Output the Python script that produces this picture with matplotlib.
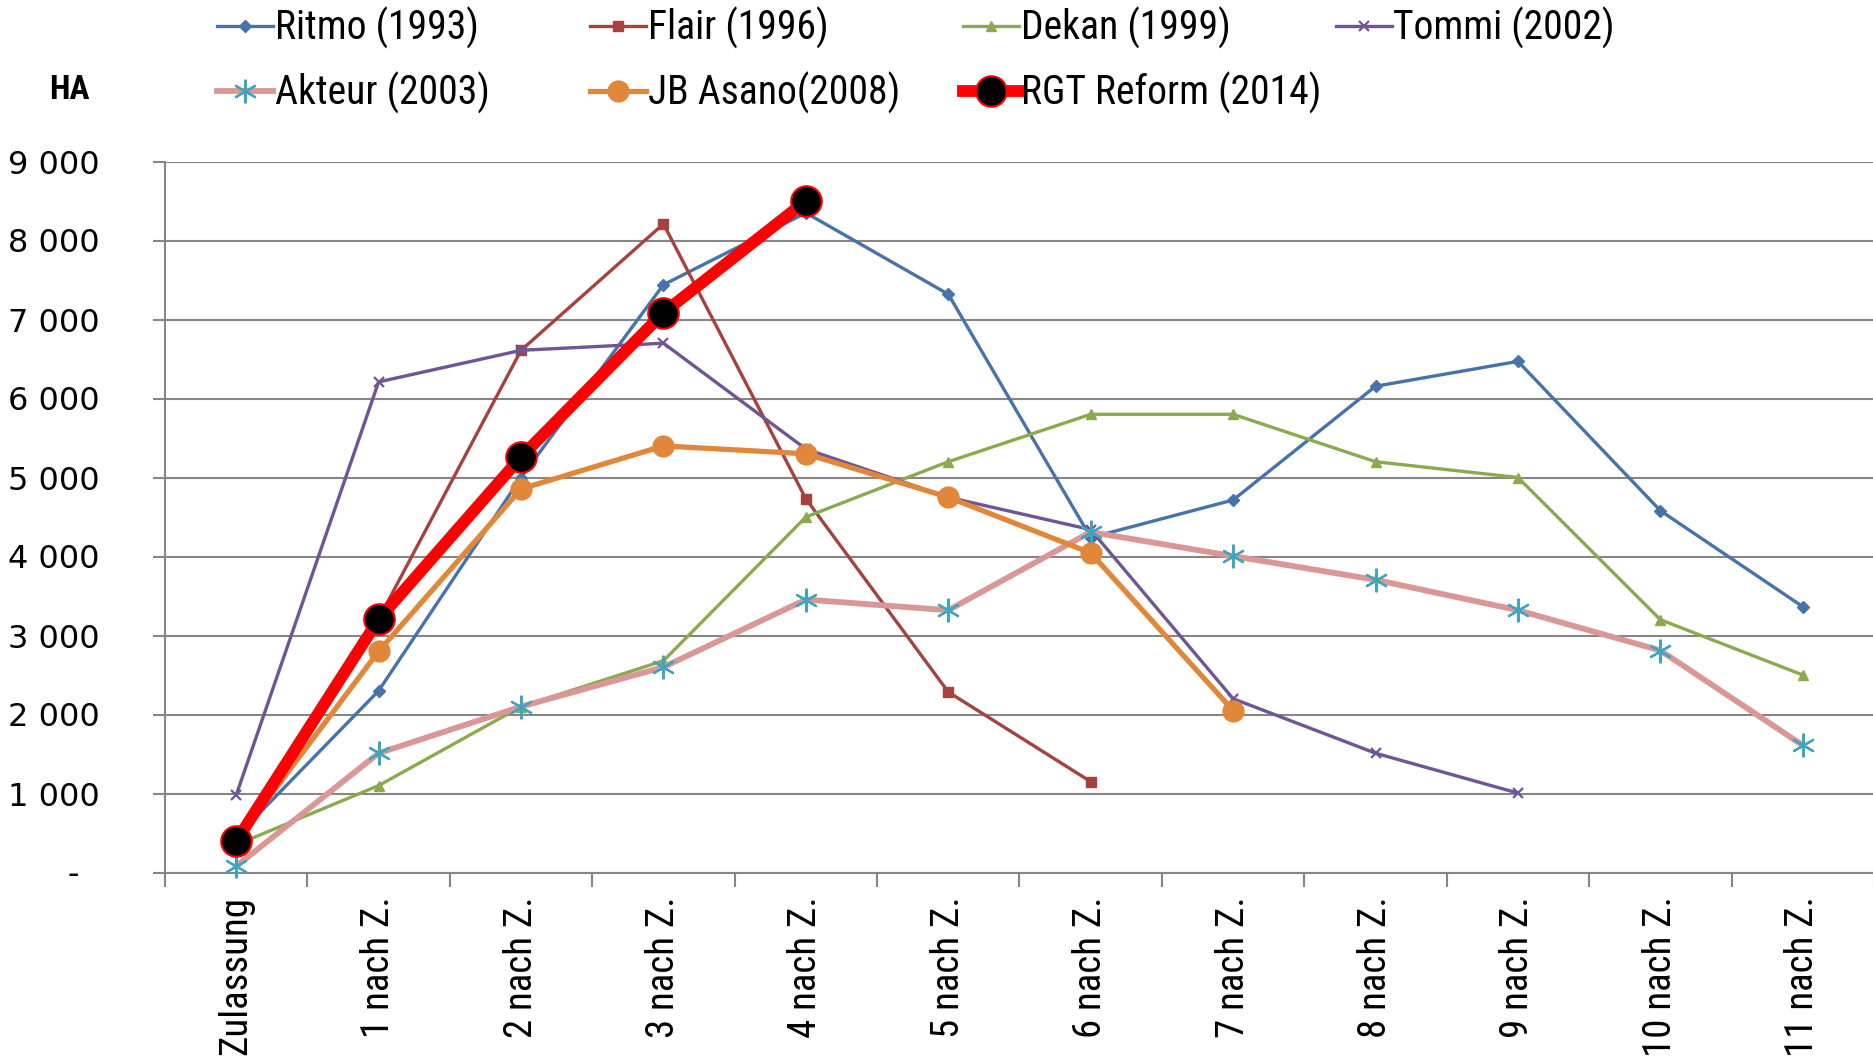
import matplotlib
matplotlib.use("Agg")
import matplotlib.pyplot as plt

categories = ["Zulassung", "1 nach Z.", "2 nach Z.", "3 nach Z.", "4 nach Z.", "5 nach Z.",
              "6 nach Z.", "7 nach Z.", "8 nach Z.", "9 nach Z.", "10 nach Z.", "11 nach Z."]

ritmo = [450, 2300, 5000, 7440, 8350, 7320, 4240, 4715, 6155, 6470, 4580, 3365]
flair = [400, 3210, 6610, 8210, 4730, 2285, 1150]
dekan = [350, 1100, 2100, 2680, 4500, 5200, 5800, 5800, 5200, 5000, 3200, 2500]
tommi = [980, 6210, 6610, 6700, 5360, 4750, 4340, 2200, 1510, 1005]
akteur = [80, 1510, 2100, 2600, 3455, 3320, 4310, 4005, 3705, 3320, 2810, 1610]
jb_asano = [400, 2800, 4855, 5400, 5300, 4750, 4045, 2050]
rgt_reform = [395, 3205, 5260, 7085, 8500]

series_labels = ["Ritmo (1993)", "Flair (1996)", "Dekan (1999)", "Tommi (2002)",
                 "Akteur (2003)", "JB Asano(2008)", "RGT Reform (2014)"]
ytick_values = [0, 1000, 2000, 3000, 4000, 5000, 6000, 7000, 8000, 9000]
ytick_labels = ["-  ", "1 000", "2 000", "3 000", "4 000", "5 000", "6 000", "7 000", "8 000", "9 000"]
y_title = "HA"

narrow = ["Roboto Condensed", "DejaVu Sans"]

W, H = 1874, 1062
fig = plt.figure(figsize=(W / 100, H / 100), dpi=100)
ax = fig.add_axes([165 / W, 1 - 872.5 / H, 1 - 165 / W, (872.5 - 161.5) / H])

grid_c = "#868686"
x = list(range(len(categories)))

def xs(v):
    return x[:len(v)]

h = []
h += ax.plot(xs(ritmo), ritmo, color="#4673AA", lw=2.4, marker="D", ms=6, mfc="#4673AA", mec="#4673AA", clip_on=False, zorder=3)
h += ax.plot(xs(flair), flair, color="#A5423E", lw=2.4, marker="s", ms=7, mfc="#A5423E", mec="#A5423E", clip_on=False, zorder=3)
h += ax.plot(xs(dekan), dekan, color="#8BAA4E", lw=2.4, marker="^", ms=7, mfc="#8BAA4E", mec="#8BAA4E", clip_on=False, zorder=3)
h += ax.plot(xs(tommi), tommi, color="#6F5596", lw=2.4, marker="x", ms=7, mew=1.6, mec="#6F5596", clip_on=False, zorder=3)
h += ax.plot(xs(akteur), akteur, color="#D99795", lw=4.2, marker=(6, 2, 0), ms=17, mew=1.6, mec="#3FA6C0", clip_on=False, zorder=4)
h += ax.plot(xs(jb_asano), jb_asano, color="#E0873A", lw=3.8, marker="o", ms=15, mfc="#E0873A", mec="#E0873A", clip_on=False, zorder=5)
h += ax.plot(xs(rgt_reform), rgt_reform, color="#FF0000", lw=8.5, marker="o", ms=22, mfc="black", mec="#FF0000", mew=1.5, clip_on=False, zorder=6)

ax.set_xlim(-0.5, len(categories) - 0.5)
ax.set_ylim(0, 9000)

ax.set_yticks(ytick_values)
ax.set_yticklabels(ytick_labels, fontsize=23, family="DejaVu Sans")
ax.tick_params(axis="y", length=9, width=1.5, color=grid_c, pad=38)
ax.grid(axis="y", color=grid_c, lw=1.5)
ax.set_axisbelow(True)

bounds = [i - 0.5 for i in range(len(categories) + 1)]
ax.set_xticks(bounds)
ax.set_xticklabels([""] * len(bounds))
ax.tick_params(axis="x", which="major", length=10, width=1.5, color=grid_c)
ax.set_xticks(x, minor=True)
ax.set_xticklabels(categories, minor=True, rotation=90, fontsize=28, family=narrow, va="top")
ax.tick_params(axis="x", which="minor", length=0, pad=17)

for s in ["top", "right"]:
    ax.spines[s].set_visible(False)
for s in ["left", "bottom"]:
    ax.spines[s].set_color(grid_c)
    ax.spines[s].set_linewidth(1.5)

# legend in four columns
cols = [[0, 4], [1, 5], [2, 6], [3]]
col_x = [217.5, 590.4, 963.3, 1336.1]
for cx, idxs in zip(col_x, cols):
    fig.legend([h[i] for i in idxs], [series_labels[i] for i in idxs],
               loc="upper left", bbox_to_anchor=(cx / W, 1 - 7 / H),
               frameon=False, borderpad=0, borderaxespad=0,
               handlelength=1.4, handletextpad=0.05, labelspacing=0.57,
               numpoints=1, prop={"family": narrow, "size": 28.5})

fig.text(69 / W, 1 - 90 / H, y_title, ha="center", va="center",
         family=narrow, fontsize=24, fontweight="bold")

fig.savefig("out.png", dpi=100)
